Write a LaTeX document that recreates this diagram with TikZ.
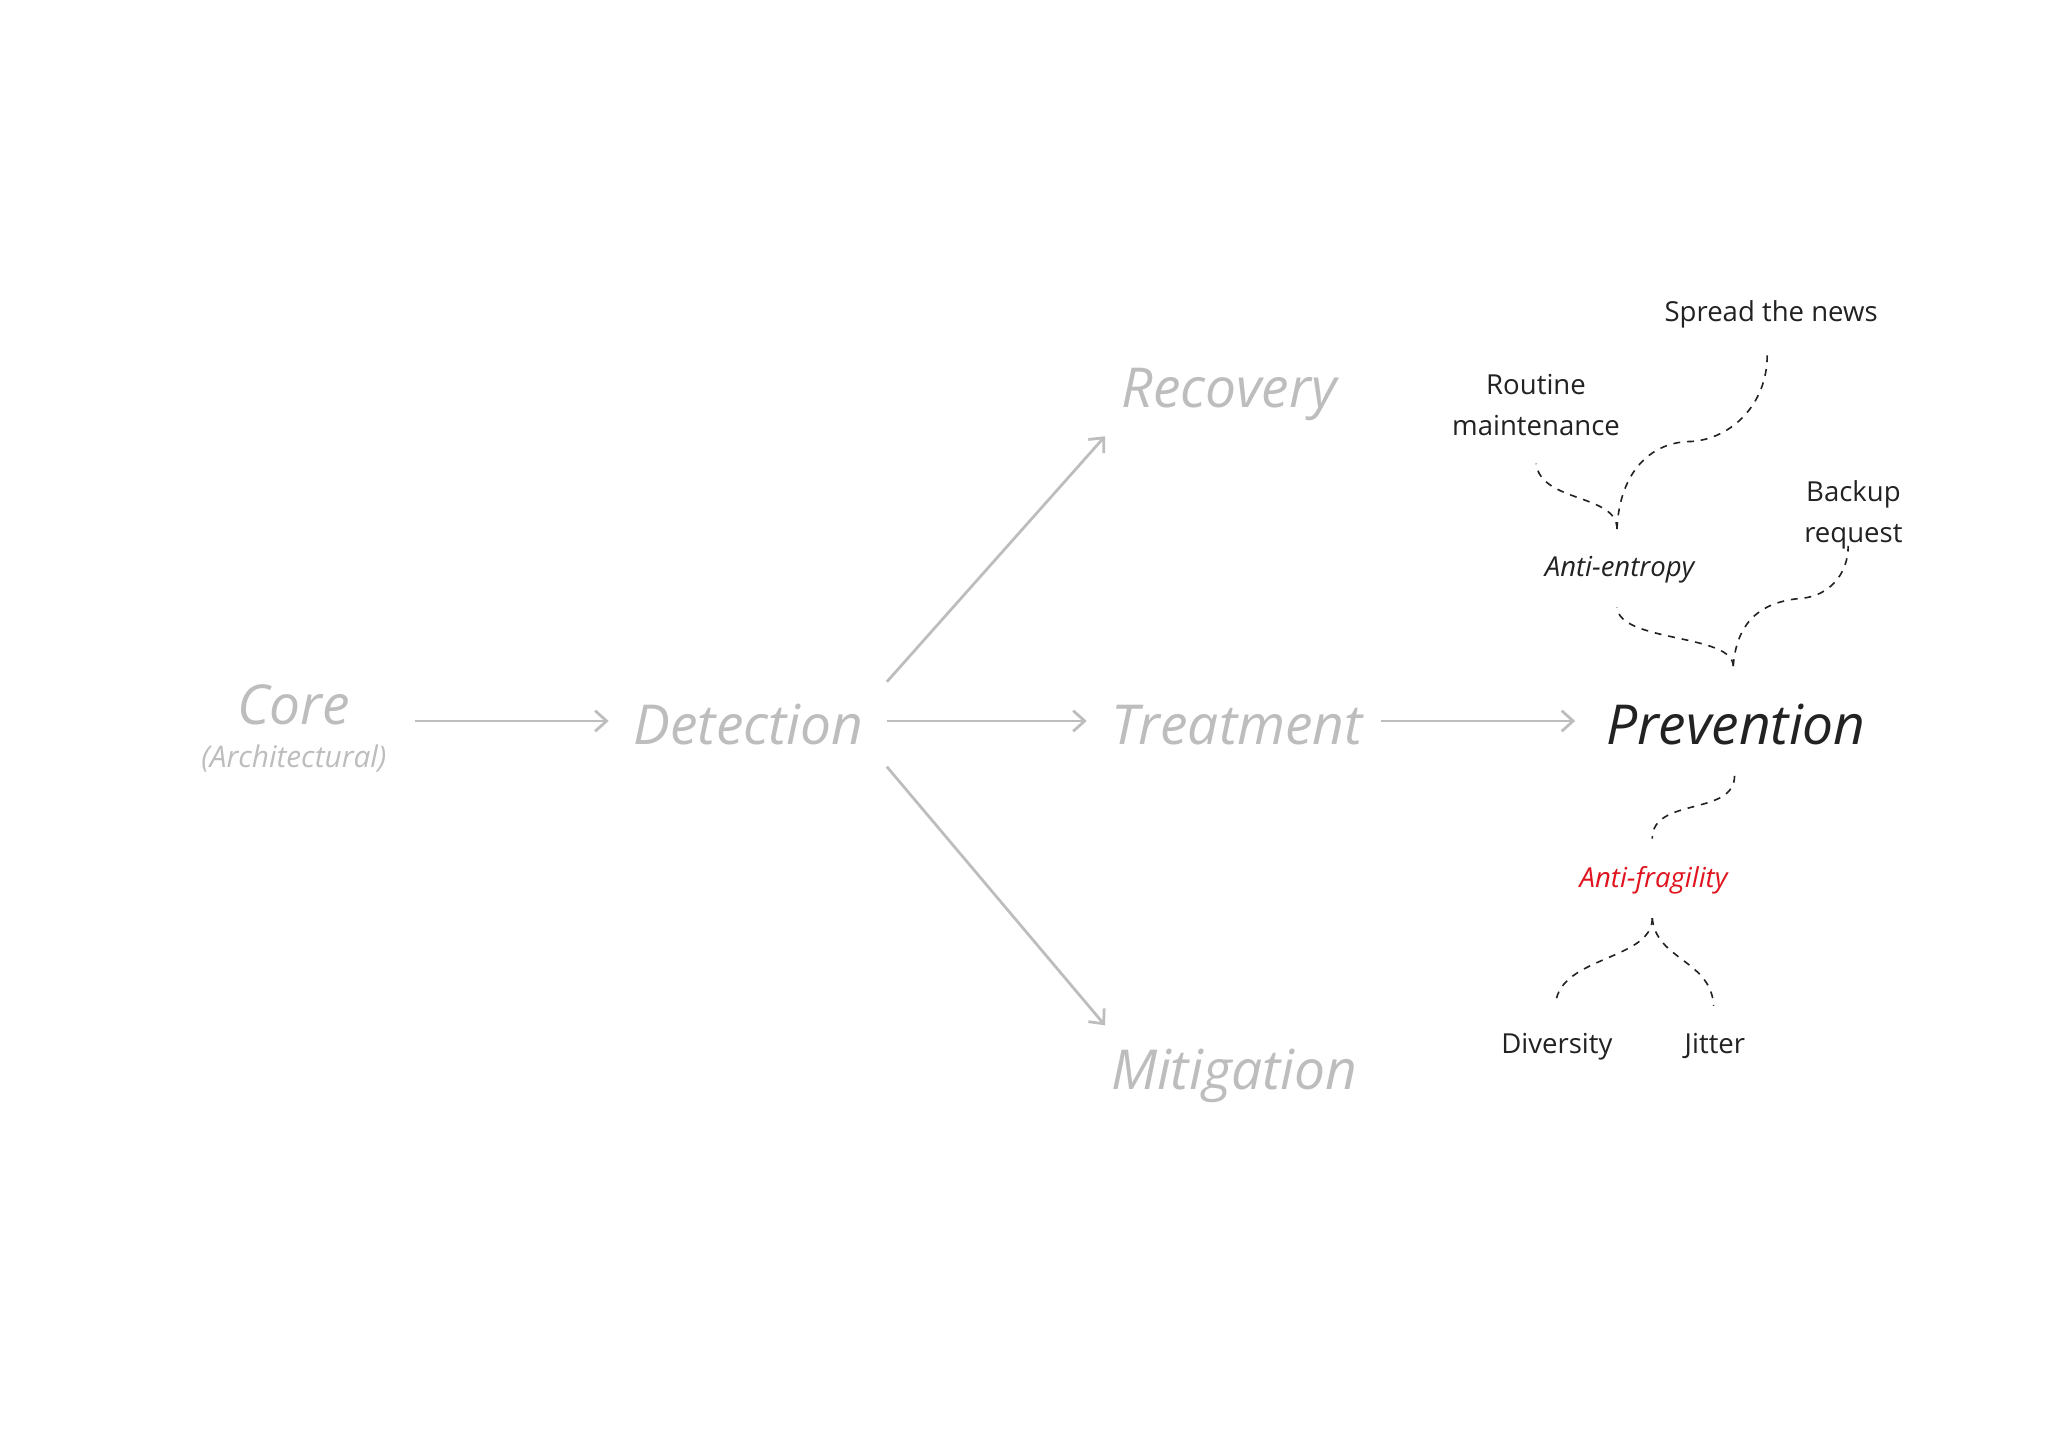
\documentclass[tikz,border=0pt]{standalone}
\usepackage{fontspec}
\setmainfont{Open Sans}
\usetikzlibrary{arrows.meta}
\definecolor{lg}{HTML}{BDBDBD}
\definecolor{dk}{HTML}{222222}
\definecolor{rd}{HTML}{E0141E}
\begin{document}
\begin{tikzpicture}[x=0.02cm,y=-0.02cm,
 big/.style={font=\fontsize{24}{28}\selectfont\itshape, text=lg, inner sep=0},
 small/.style={font=\fontsize{12}{18}\selectfont, text=dk, align=center, inner sep=0},
 arr/.style={draw=lg, line width=1.2pt, -{Straight Barb[length=5pt,width=9pt]}},
 dsh/.style={draw=dk, dashed, line width=0.7pt}]
\useasboundingbox[fill=white] (0,0) rectangle (1568,1110);
\node[big] (core) at (225,540) {Core};
\node[inner sep=0, text=lg, font=\fontsize{13}{15}\selectfont\itshape] (arch) at (225,581) {(Architectural)};
\node[big] (det) at (573,555) {Detection};
\node[big] (tre) at (947,555) {Treatment};
\node[big, text=dk] (pre) at (1329,555) {Prevention};
\node[big] (rec) at (941,302) {Recovery};
\node[big] (mit) at (945,824) {Mitigation};
\coordinate (a1) at (318,552); \coordinate (a2) at (466,552);
\draw[arr] (a1) -- (a2);
\coordinate (b1) at (679,552); \coordinate (b2) at (832,552);
\draw[arr] (b1) -- (b2);
\coordinate (c1) at (1057,552); \coordinate (c2) at (1206,552);
\draw[arr] (c1) -- (c2);
\coordinate (d1) at (679,522); \coordinate (d2) at (846,334);
\draw[arr] (d1) -- (d2);
\coordinate (e1) at (679,587); \coordinate (e2) at (846,785);
\draw[arr] (e1) -- (e2);
\node[small] (news) at (1356,241) {Spread the news};
\node[small] (rout) at (1176,310) {Routine\\maintenance};
\node[small] (back) at (1419,394) {Backup\\request};
\node[small, font=\fontsize{12}{18}\selectfont\itshape] (ae) at (1240,436) {Anti-entropy};
\node[small, text=rd, font=\fontsize{12}{18}\selectfont\itshape] (af) at (1266,674) {Anti-fragility};
\node[small] (div) at (1192,801) {Diversity};
\node[small] (jit) at (1313,801) {Jitter};
\coordinate (aet) at (1238,405);
\coordinate (rb) at (1176,355);
\coordinate (nb) at (1353,272);
\draw[dsh] (aet) .. controls (1238,378) and (1180,385) .. (rb);
\draw[dsh] (aet) .. controls (1240,360) and (1265,338) .. (1295,338) .. controls (1325,336) and (1353,310) .. (nb);
\coordinate (pt) at (1327,510);
\coordinate (aeb) at (1238,465);
\coordinate (bb) at (1415,418);
\draw[dsh] (pt) .. controls (1327,485) and (1240,492) .. (aeb);
\draw[dsh] (pt) .. controls (1330,470) and (1355,460) .. (1380,458) .. controls (1400,456) and (1415,440) .. (bb);
\coordinate (pb) at (1328,594);
\coordinate (aft) at (1265,642);
\draw[dsh] (pb) .. controls (1328,625) and (1265,610) .. (aft);
\coordinate (afb) at (1265,703);
\coordinate (dt) at (1191,768);
\coordinate (jt) at (1312,770);
\draw[dsh] (afb) .. controls (1265,735) and (1195,732) .. (dt);
\draw[dsh] (afb) .. controls (1268,735) and (1310,735) .. (jt);
\end{tikzpicture}
\end{document}
